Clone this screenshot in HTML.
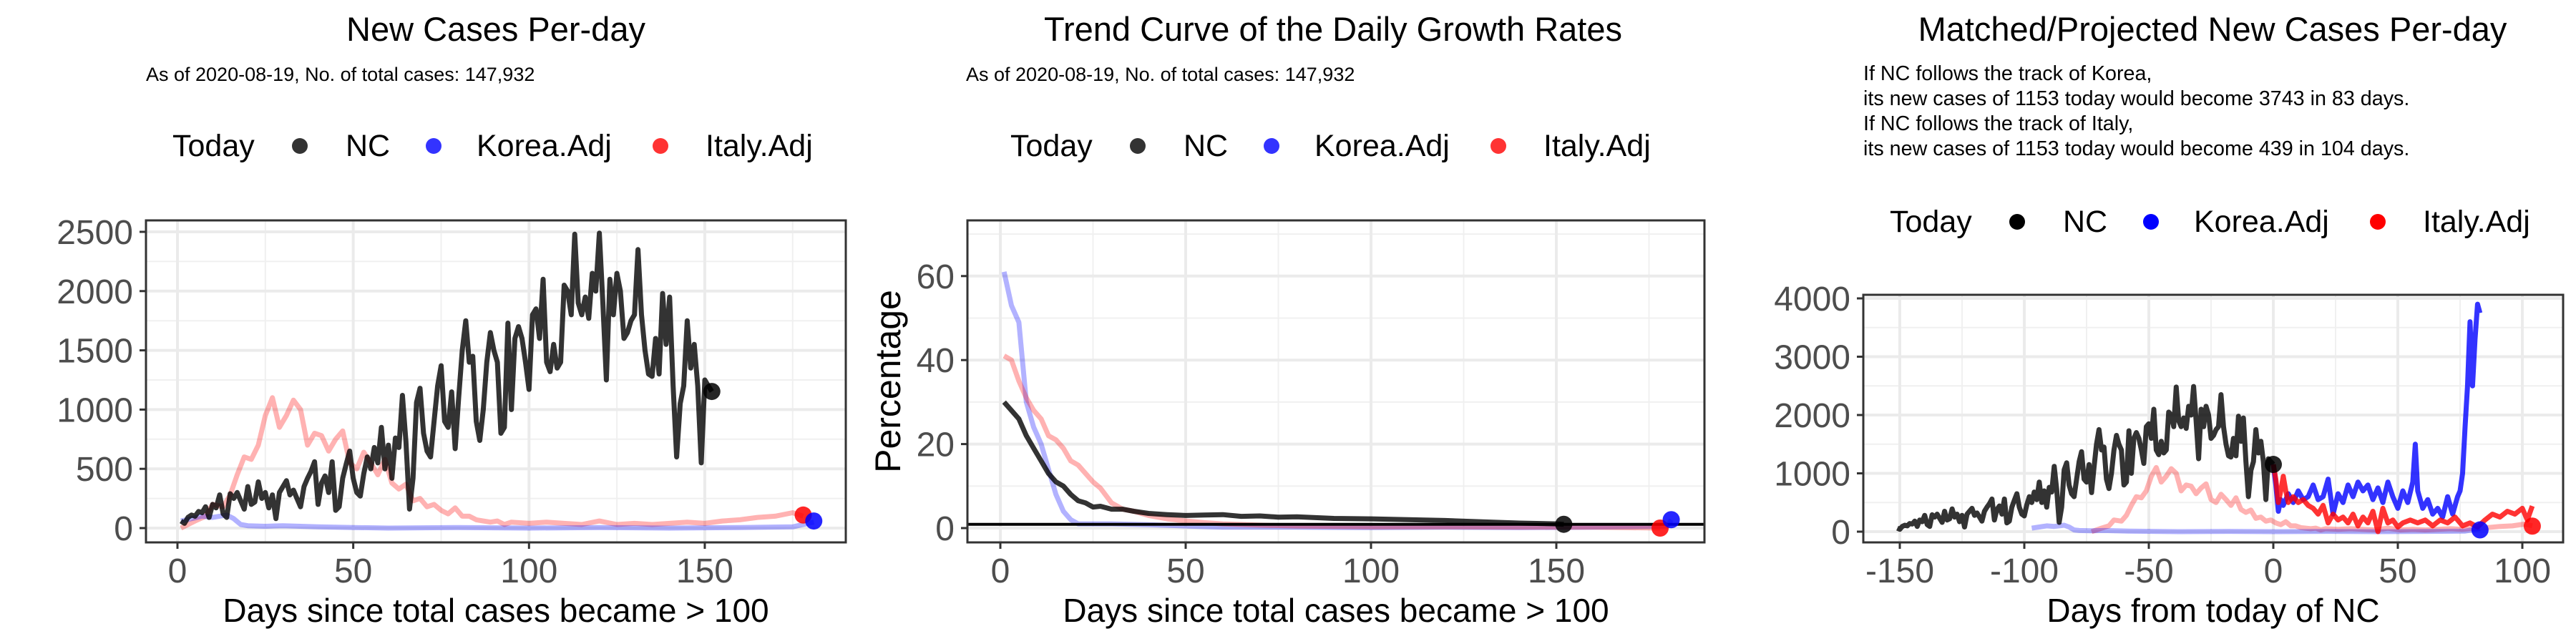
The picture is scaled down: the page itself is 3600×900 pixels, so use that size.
<!DOCTYPE html>
<html><head><meta charset="utf-8"><style>
html,body{margin:0;padding:0;background:#fff}
svg{display:block}
text{font-family:"Liberation Sans",Arial,sans-serif}
</style></head><body>
<svg id="chart" width="3600" height="900" viewBox="0 0 3600 900" xmlns="http://www.w3.org/2000/svg">
<rect x="0" y="0" width="3600" height="900" fill="#fff"/>
<g id="static"></g>
</svg>
<script>
// ---------- DATA ----------
const ncDaily = [60,40,90,110,100,140,130,180,90,200,
170,280,120,90,290,250,300,230,160,350,
200,220,390,250,300,170,280,80,300,350,
400,280,320,250,180,350,420,480,560,200,
380,440,300,560,150,180,420,540,650,420,
300,270,460,600,500,680,550,850,500,700,
420,760,680,1120,730,160,420,1060,1180,800,
650,600,900,1200,1370,900,850,1150,670,1100,
1500,1750,1400,1450,900,740,1000,1400,1650,1500,
1400,800,850,1730,1000,1600,1700,1600,1400,1170,
1800,1850,1600,2100,1400,1320,1550,1350,1400,2050,
2000,1800,2480,1900,1800,1950,1770,2150,2000,2490,
1900,1250,2100,1800,2150,2000,1600,1650,1750,1800,
2350,1800,1500,1300,1280,1600,1300,1980,1550,1950,
1200,600,1050,1200,1750,1350,1550,1200,550,1250,
1200,1153];
const italyDays = [1,3,5,8,10,13,15,17,19,21,23,25,27,29,31,33,35,37,39,41,43,45,47,49,51,53,55,57,59,61,63,65,67,69,71,73,75,77,79,81,83,85,87,89,91,93,95,100,105,110,115,120,125,130,135,140,145,150,155,160,165,170,175,178];
const italyCases = [0,30,60,100,200,180,280,450,600,580,700,950,1100,850,950,1080,1000,700,800,780,650,750,820,550,500,640,550,450,580,380,330,370,230,250,180,200,150,120,170,100,100,70,60,50,60,30,50,40,50,40,30,60,30,40,30,40,50,40,60,70,90,100,130,100];
const koreaDays = [1,4,7,10,12,14,16,18,20,25,30,40,50,60,80,100,120,140,160,175,178,181];
const koreaCases = [60,80,100,90,100,110,80,30,20,15,20,10,5,0,5,0,5,0,5,10,30,50];

const ncGrowthDays = [1,3,5,7,9,11,13,15,17,19,21,23,25,27,30,33,36,40,45,50,55,60,65,70,75,80,90,100,110,120,130,140,150,152];
const ncGrowth = [30,28,26,22,19,16,13,11,10,8,6.5,6,5,5.2,4.5,4.5,4,3.5,3.2,3,3.1,3.2,2.8,2.9,2.6,2.7,2.3,2.2,2.0,1.8,1.5,1.2,1.0,0.9];
const koreaGrowthDays = [1,3,5,7,9,11,13,15,17,19,21,25,30,40,50,60,80,100,120,140,160,180,181];
const koreaGrowth = [61,53,49,30,24,20,14,8,4,2,1,1,1,0.8,0.5,0.2,0.2,0.1,0.2,0.1,0.2,0.5,2];
const italyGrowthDays = [1,3,5,7,9,11,13,15,17,19,21,23,25,27,30,33,36,40,45,50,55,60,70,80,100,120,140,160,178];
const italyGrowth = [41,40,35,31,28,26,22,21,19,16,15,13,11,9.5,6,4.5,4,3,2.2,1.7,1.3,1,0.7,0.5,0.3,0.3,0.2,0.2,0];
const growthRefLine = 0.9;

const ncShift = -152, italyShift = -74, koreaShift = -98;
const projKoreaDays = [0,1,2,3,4,6,8,10,12,14,16,18,20,22,24,26,28,30,32,34,36,38,40,42,44,46,48,50,52,54,56,57,58,60,62,64,66,68,70,72,74,75,76,77,78,79,80,81,82,83];
const projKorea = [1153,800,350,550,450,650,500,700,550,600,800,550,600,900,300,650,500,800,600,850,700,800,550,750,500,850,600,400,700,500,850,1500,700,400,550,300,400,250,600,300,600,700,1000,1800,2500,3600,2500,3300,3900,3750];
const projItalyDays = [0,1,2,3,4,5,6,8,10,12,14,16,18,20,22,24,26,28,30,32,34,36,38,40,42,44,46,48,50,52,55,58,61,64,67,70,73,76,79,82,85,88,91,94,97,100,102,104];
const projItaly = [1153,900,500,700,950,700,500,600,500,550,450,400,300,450,150,300,200,250,150,300,100,250,150,350,0,400,150,200,80,150,200,150,200,100,200,150,250,100,150,80,200,300,250,350,300,400,200,439];

const p1Ticks = [0,500,1000,1500,2000,2500];
const p1XTicks = [0,50,100,150];
const p2Ticks = [0,20,40,60];
const p2XTicks = [0,50,100,150];
const p3Ticks = [0,1000,2000,3000,4000];
const p3XTicks = [-150,-100,-50,0,50,100];

// ---------- HELPERS ----------
const NS = "http://www.w3.org/2000/svg";
const root = document.getElementById('static');
function mk(tag, attrs, parent){
  const e = document.createElementNS(NS, tag);
  for (const k in attrs) e.setAttribute(k, attrs[k]);
  (parent||root).appendChild(e);
  return e;
}
function txt(str, x, y, size, anchor, fill, parent){
  const t = mk('text', {x:x, y:y, 'font-size':size, 'text-anchor':anchor||'start', fill:fill||'#000'}, parent);
  t.textContent = str;
  return t;
}

function panel(cfg){
  const g = mk('g', {});
  
  
  const X = cfg.x, Y = cfg.y;
  const L = cfg.left, R = cfg.right, T = cfg.top, B = cfg.bottom;
  const grid = mk('g', {}, g);
  
  
  cfg.minorY.forEach(v => { const py = Y(v); if (py > T && py < B) mk('line', {x1:L, x2:R, y1:py, y2:py, stroke:'#f0f0f0', 'stroke-width':2}, grid); });
  cfg.minorX.forEach(v => { const px = X(v); if (px > L && px < R) mk('line', {x1:px, x2:px, y1:T, y2:B, stroke:'#f0f0f0', 'stroke-width':2}, grid); });
  cfg.yTicks.forEach(v => mk('line', {x1:L, x2:R, y1:Y(v), y2:Y(v), stroke:'#ebebeb', 'stroke-width':4}, grid));
  cfg.xTicks.forEach(v => mk('line', {x1:X(v), x2:X(v), y1:T, y2:B, stroke:'#ebebeb', 'stroke-width':4}, grid));
  cfg.yTicks.forEach(v => {
    mk('line', {x1:L-9, x2:L, y1:Y(v), y2:Y(v), stroke:'#333', 'stroke-width':3}, g);
    const t = txt(String(v), L-18, Y(v)+17, 48, 'end', '#4d4d4d', g);
    
    
  });
  cfg.xTicks.forEach(v => {
    mk('line', {x1:X(v), x2:X(v), y1:B, y2:B+9, stroke:'#333', 'stroke-width':3}, g);
    const t = txt(String(v), X(v), B+56, 48, 'middle', '#4d4d4d', g);
    
    
  });
  cfg.series.forEach(s => {
    const pts = s.xs.map((d,i) => X(d + (s.shift||0)).toFixed(1) + ',' + Y(s.ys[i]).toFixed(1)).join(' ');
    const pl = mk('polyline', {points:pts, fill:'none', stroke:s.color, 'stroke-width':7, 'stroke-opacity':s.op, 'stroke-linejoin':'round'}, g);
    
    
  });
  if (cfg.hline !== undefined) {
    const hl = mk('line', {x1:L, x2:R, y1:Y(cfg.hline), y2:Y(cfg.hline), stroke:'#000', 'stroke-width':4}, g);
    
    
  }
  cfg.dots.forEach(d => {
    const c = mk('circle', {cx:X(d.x), cy:Y(d.y), r:12, fill:d.color, 'fill-opacity':0.85}, g);
    
    
  });
  const border = mk('rect', {x:L, y:T, width:R-L, height:B-T, fill:'none', stroke:'#333', 'stroke-width':3}, g);
  
  
  const tt = txt(cfg.title, cfg.titleX, 57, 47, 'middle', '#000', g);
  
  
  cfg.sub.forEach((line, i) => {
    const st = txt(line, cfg.subX, cfg.subY + i*35, cfg.subSize, 'start', '#000', g);
    
    
  });
  const xl = txt(cfg.xlabel, (L+R)/2, 869, 46, 'middle', '#000', g);
  
  
  const lg = mk('g', {}, g);
  
  
  const o = cfg.legX, ly = cfg.legY;
  txt('Today', o+241, ly, 43, 'start', '#000', lg);
  const entries = [['NC','#000',419,483],['Korea.Adj','#0000ff',606,666],['Italy.Adj','#ff0000',923,986]];
  entries.forEach(e => {
    const c = mk('circle', {cx:o+e[2], cy:ly-14, r:11, fill:e[1], 'fill-opacity':cfg.legOp}, lg);
    
    
    const t = txt(e[0], o+e[3], ly, 43, 'start', '#000', lg);
    
    
  });
}

const dayIdx = ncDaily.map((v,i) => i+1);
panel({
  name:'new-cases-panel', left:204, right:1182, top:308, bottom:758,
  x: d => 248 + d*4.913, y: v => 738 - v*0.1656,
  yTicks:p1Ticks, xTicks:p1XTicks, minorY:[250,750,1250,1750,2250], minorX:[25,75,125,175],
  series:[
    {name:'italy-adj-line', xs:italyDays, ys:italyCases, color:'#ff0000', op:0.3},
    {name:'korea-adj-line', xs:koreaDays, ys:koreaCases, color:'#0000ff', op:0.3},
    {name:'nc-line', xs:dayIdx, ys:ncDaily, color:'#000', op:0.8}
  ],
  dots:[{name:'nc-today-dot', x:152, y:1153, color:'#000'},{name:'italy-today-dot', x:178, y:110, color:'#ff0000'},{name:'korea-today-dot', x:181, y:60, color:'#0000ff'}],
  title:'New Cases Per-day', titleX:693, sub:['As of 2020-08-19, No. of total cases: 147,932'], subX:204, subY:113, subSize:27,
  xlabel:'Days since total cases became > 100', legX:0, legY:218, legOp:0.8
});

panel({
  name:'growth-rate-panel', left:1352, right:2382, top:308, bottom:758,
  x: d => 1398 + d*5.18, y: v => 738 - v*5.87,
  yTicks:p2Ticks, xTicks:p2XTicks, minorY:[10,30,50,70], minorX:[25,75,125,175],
  series:[
    {name:'korea-adj-growth-line', xs:koreaGrowthDays, ys:koreaGrowth, color:'#0000ff', op:0.3},
    {name:'italy-adj-growth-line', xs:italyGrowthDays, ys:italyGrowth, color:'#ff0000', op:0.3},
    {name:'nc-growth-line', xs:ncGrowthDays, ys:ncGrowth, color:'#000', op:0.8}
  ],
  hline: growthRefLine,
  dots:[{name:'nc-today-dot', x:152, y:0.9, color:'#000'},{name:'italy-today-dot', x:178, y:0, color:'#ff0000'},{name:'korea-today-dot', x:181, y:2, color:'#0000ff'}],
  title:'Trend Curve of the Daily Growth Rates', titleX:1863, sub:['As of 2020-08-19, No. of total cases: 147,932'], subX:1350, subY:113, subSize:27,
  xlabel:'Days since total cases became > 100', legX:1171, legY:218, legOp:0.8
});
const yt = txt('Percentage', 0, 0, 50, 'middle', '#000');
yt.setAttribute('transform', 'translate(1258,533) rotate(-90)');



panel({
  name:'projection-panel', left:2604, right:3582, top:412, bottom:758,
  x: d => 2655 + (d+150)*3.48, y: v => 743 - v*0.0815,
  yTicks:p3Ticks, xTicks:p3XTicks, minorY:[500,1500,2500,3500], minorX:[-125,-75,-25,25,75],
  series:[
    {name:'italy-adj-history-line', xs:italyDays, ys:italyCases, shift:italyShift, color:'#ff0000', op:0.3},
    {name:'korea-adj-history-line', xs:koreaDays, ys:koreaCases, shift:koreaShift, color:'#0000ff', op:0.3},
    {name:'nc-line', xs:dayIdx, ys:ncDaily, shift:ncShift, color:'#000', op:0.8},
    {name:'korea-projection-line', xs:projKoreaDays, ys:projKorea, color:'#0000ff', op:0.8},
    {name:'italy-projection-line', xs:projItalyDays, ys:projItaly, color:'#ff0000', op:0.8}
  ],
  dots:[{name:'nc-today-dot', x:0, y:1153, color:'#000'},{name:'korea-projected-dot', x:83, y:30, color:'#0000ff'},{name:'italy-projected-dot', x:104, y:95, color:'#ff0000'}],
  title:'Matched/Projected New Cases Per-day', titleX:3092,
  sub:['If NC follows the track of Korea,','its new cases of 1153 today would become 3743 in 83 days.','If NC follows the track of Italy,','its new cases of 1153 today would become 439 in 104 days.'],
  subX:2604, subY:112, subSize:28.7,
  xlabel:'Days from today of NC', legX:2400, legY:324, legOp:1
});
</script>
</body></html>
